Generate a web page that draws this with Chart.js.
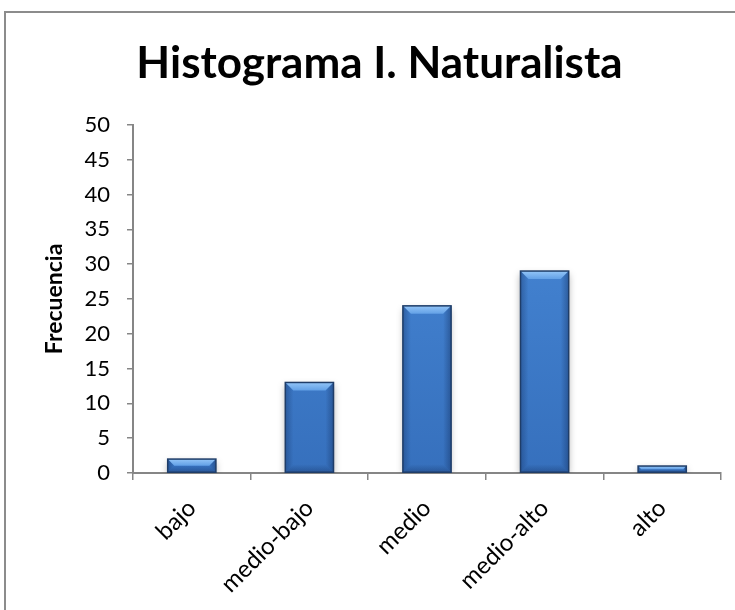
<!DOCTYPE html>
<html>
<head>
<meta charset="utf-8">
<title>Histograma I. Naturalista</title>
<script src="https://cdn.jsdelivr.net/npm/chart.js@4.4.1/dist/chart.umd.min.js"></script>
<style>
    html, body { margin: 0; padding: 0; background: #fff; }
    #wrap { width: 735px; height: 610px; position: relative; }
</style>
</head>
<body>
<div id="wrap"><canvas id="histChart"></canvas></div>
<script>
// datos del histograma
const categorias = ['bajo', 'medio-bajo', 'medio', 'medio-alto', 'alto'];
const frecuencias = [2, 13, 24, 29, 1];
const tituloGrafico = 'Histograma I. Naturalista';
const tituloEjeY = 'Frecuencia';

const axisGray = '#868686';

/*== marco del grafico (borde izquierdo y superior) ==*/
const chartFrame = {
    id: 'chartFrame',
    beforeDraw(chart) {
        const ctx = chart.ctx;
        ctx.save();
        ctx.strokeStyle = '#8c8c8c';
        ctx.lineWidth = 2;
        ctx.beginPath();
        ctx.moveTo(5, chart.height);
        ctx.lineTo(5, 12);
        ctx.lineTo(chart.width, 12);
        ctx.stroke();
        ctx.restore();
    }
};

/*== sombra y biselado de las barras ==*/
const barBevel = {
    id: 'barBevel',
    beforeDatasetsDraw(chart) {
        const ctx = chart.ctx;
        ctx.save();
        ctx.shadowColor = 'rgba(0, 0, 0, 0.3)';
        ctx.shadowBlur = 7;
        ctx.shadowOffsetY = 3;
    },
    afterDatasetsDraw(chart) {
        const ctx = chart.ctx;
        ctx.restore();
        ctx.save();
        chart.getDatasetMeta(0).data.forEach(bar => {
            const p = bar.getProps(['x', 'y', 'base', 'width'], true);
            const l = p.x - p.width / 2, r = p.x + p.width / 2;
            const t = p.y, b = p.base;
            const bv = Math.min(8, (b - t) / 2);

            // cara superior clara
            const g = ctx.createLinearGradient(0, t, 0, t + bv);
            g.addColorStop(0, '#93c5f7');
            g.addColorStop(1, '#62a0e6');
            ctx.fillStyle = g;
            ctx.beginPath();
            ctx.moveTo(l, t); ctx.lineTo(r, t);
            ctx.lineTo(r - bv, t + bv); ctx.lineTo(l + bv, t + bv);
            ctx.closePath(); ctx.fill();

            // lados oscuros suaves
            const gl = ctx.createLinearGradient(l, 0, l + bv, 0);
            gl.addColorStop(0, 'rgba(15, 40, 85, 0.35)');
            gl.addColorStop(1, 'rgba(15, 40, 85, 0)');
            ctx.fillStyle = gl;
            ctx.beginPath();
            ctx.moveTo(l, t); ctx.lineTo(l + bv, t + bv);
            ctx.lineTo(l + bv, b - bv); ctx.lineTo(l, b);
            ctx.closePath(); ctx.fill();

            const gr = ctx.createLinearGradient(r, 0, r - bv, 0);
            gr.addColorStop(0, 'rgba(15, 40, 85, 0.4)');
            gr.addColorStop(1, 'rgba(15, 40, 85, 0)');
            ctx.fillStyle = gr;
            ctx.beginPath();
            ctx.moveTo(r, t); ctx.lineTo(r - bv, t + bv);
            ctx.lineTo(r - bv, b - bv); ctx.lineTo(r, b);
            ctx.closePath(); ctx.fill();

            // base
            const gb = ctx.createLinearGradient(0, b, 0, b - bv);
            gb.addColorStop(0, 'rgba(15, 40, 85, 0.35)');
            gb.addColorStop(1, 'rgba(15, 40, 85, 0)');
            ctx.fillStyle = gb;
            ctx.beginPath();
            ctx.moveTo(l, b); ctx.lineTo(l + bv, b - bv);
            ctx.lineTo(r - bv, b - bv); ctx.lineTo(r, b);
            ctx.closePath(); ctx.fill();

            // contorno
            ctx.strokeStyle = '#1f3d68';
            ctx.lineWidth = 1.5;
            ctx.strokeRect(l, t, r - l, b - t);
        });
        ctx.restore();
    }
};

const ctx = document.getElementById('histChart').getContext('2d');

const histChart = new Chart(ctx, {
    type: 'bar',
    data: {
        labels: categorias,
        datasets: [{
            data: frecuencias,
            backgroundColor: function (context) {
                const area = context.chart.chartArea;
                if (!area) {
                    return '#3b7acb';
                }
                const g = context.chart.ctx.createLinearGradient(0, area.top, 0, area.bottom);
                g.addColorStop(0, '#4a8cdb');
                g.addColorStop(1, '#3670bd');
                return g;
            },
            borderWidth: 0,
            categoryPercentage: 1,
            barPercentage: 0.41
        }]
    },
    options: {
        responsive: true,
        maintainAspectRatio: false,
        animation: false,
        layout: {
            padding: { left: 38, right: 14, top: 0, bottom: 0 }
        },
        scales: {
            x: {
                grid: {
                    display: true,
                    drawOnChartArea: false,
                    offset: true,
                    color: axisGray,
                    lineWidth: 1.5,
                    tickLength: 7
                },
                border: { color: axisGray, width: 2 },
                ticks: {
                    color: '#000',
                    font: { family: 'Lato', size: 24 },
                    minRotation: 45,
                    maxRotation: 45,
                    padding: 14
                },
                afterFit(scale) {
                    scale.height = 137;
                }
            },
            y: {
                min: 0,
                max: 50,
                ticks: {
                    stepSize: 5,
                    color: '#000',
                    font: { family: 'Lato', size: 22 },
                    padding: 17
                },
                grid: {
                    display: true,
                    drawOnChartArea: false,
                    color: axisGray,
                    lineWidth: 1.5,
                    tickLength: 6
                },
                border: { color: axisGray, width: 2 },
                title: {
                    display: true,
                    text: tituloEjeY,
                    color: '#000',
                    font: { family: 'Lato', size: 23, weight: 'bold' },
                    padding: { top: 3, bottom: 0 }
                },
                afterFit(scale) {
                    scale.width = 95;
                }
            }
        },
        plugins: {
            legend: { display: false },
            tooltip: { enabled: false },
            title: {
                display: true,
                text: tituloGrafico,
                color: '#000',
                font: { family: 'Lato', size: 44, weight: 'bold' },
                padding: { top: 37, bottom: 35 }
            }
        }
    },
    plugins: [chartFrame, barBevel]
});
</script>
</body>
</html>
